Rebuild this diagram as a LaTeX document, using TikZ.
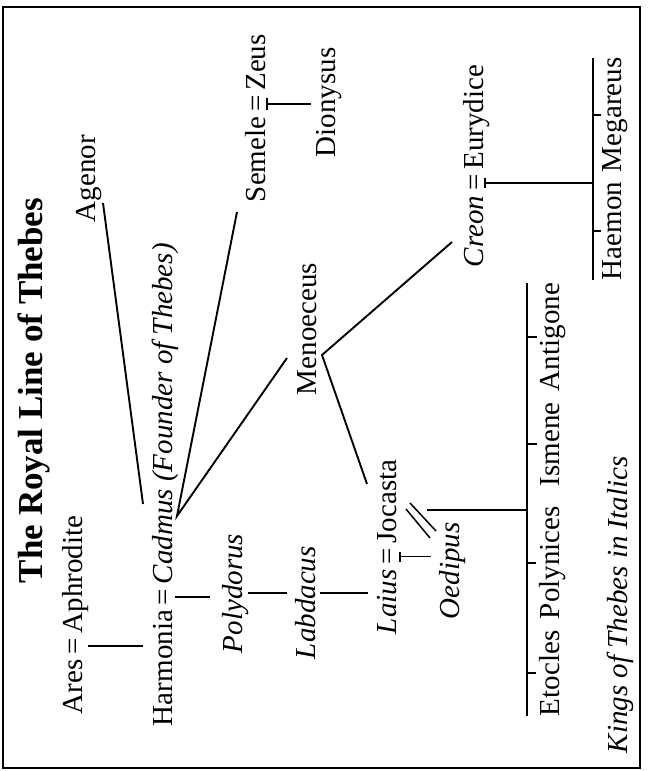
\documentclass[tikz,border=0pt]{standalone}
\usepackage{fontspec}
\setmainfont{Liberation Serif}
\begin{document}
\begin{tikzpicture}[x=1pt,y=-1pt,
  nm/.style={rotate=90, anchor=base west, inner sep=0pt, outer sep=0pt, font=\fontsize{29}{34}\selectfont},
  itn/.style={nm, font=\fontsize{29}{34}\selectfont\itshape},
  ln/.style={line width=1.9pt},
  tk/.style={line width=1.5pt},
]
\useasboundingbox (0,0) rectangle (648,771);
\draw[line width=2.2pt] (3,7) rectangle (640,768);

% names
\node[nm, font=\fontsize{35}{40}\selectfont\bfseries] (title) at (42,583) {The Royal Line of Thebes};
\node[nm] (agenor) at (95,222) {Agenor};
\node[nm] (ares) at (82,714) {Ares};
\node[nm] (eqA) at (ares.base east) {\,=\,};
\node[nm] (aphrodite) at (eqA.base east) {Aphrodite};
\node[nm] (harmonia) at (172,726) {Harmonia};
\node[nm] (eqH) at (harmonia.base east) {\,=\,};
\node[itn] (cadmus) at (eqH.base east) {Cadmus (Founder of Thebes)};
\node[nm] (semele) at (265,202) {Semele};
\node[nm] (eqS) at (semele.base east) {\,=\,};
\node[nm] (zeus) at (eqS.base east) {Zeus};
\node[nm] (dionysus) at (335,157) {Dionysus};
\node[itn] (polydorus) at (242,653) {Polydorus};
\node[nm] (menoeceus) at (316,395) {Menoeceus};
\node[itn] (labdacus) at (315,659) {Labdacus};
\node[itn] (laius) at (396,634) {Laius};
\node[nm] (eqL) at (laius.base east) {\,=\,};
\node[nm] (jocasta) at (eqL.base east) {Jocasta};
\node[itn] (oedipus) at (459,619) {Oedipus};
\node[itn] (creon) at (483,267) {Creon};
\node[nm] (eqC) at (creon.base east) {\,=\,};
\node[nm] (eurydice) at (eqC.base east) {Eurydice};
\node[nm] (etocles) at (559,716) {Etocles};
\node[nm] (polynices) at (559,619) {Polynices};
\node[nm] (ismene) at (559,486) {Ismene};
\node[nm] (antigone) at (559,391) {Antigone};
\node[nm] (haemon) at (621,280) {Haemon};
\node[nm] (megareus) at (621,172) {Megareus};
\node[itn] (kings) at (627,753) {Kings of Thebes in Italics};

% lines from Cadmus
\coordinate (cadapex) at (177,516);
\coordinate (cadtop) at (143,504);
\coordinate (agenorfoot) at (103,203);
\coordinate (semelefoot) at (237,212);
\coordinate (menfoot) at (287,358);
\draw[ln] (agenorfoot) -- (cadtop);
\draw[ln] (semelefoot) -- (cadapex) -- (menfoot);

% fork from Menoeceus
\coordinate (menapex) at (322,355);
\coordinate (creonfoot) at (452,242);
\coordinate (jocfoot) at (367,484);
\draw[ln] (creonfoot) -- (menapex) -- (jocfoot);

% Ares = Aphrodite -> Harmonia
\coordinate (hA) at ([xshift=-10pt]harmonia.north);
\draw[ln] ([xshift=6pt]eqA.south) -- (hA |- eqA.south);

% Harmonia = Cadmus -> Polydorus
\coordinate (pA) at ([xshift=-12pt]polydorus.north);
\draw[ln] ([xshift=3pt]eqH.south) -- (pA |- eqH.south);

% Polydorus -> Labdacus -> Laius
\coordinate (lA) at ([xshift=-8pt]labdacus.north);
\coordinate (lB) at ([xshift=5pt]labdacus.south);
\coordinate (laA) at ([xshift=-9pt]laius.north);
\draw[ln] (polydorus.south) -- (lA |- polydorus.south);
\draw[ln] (lB |- polydorus.south) -- (laA |- polydorus.south);

% Semele = Zeus -> Dionysus
\coordinate (dA) at ([xshift=-5pt]dionysus.north);
\draw[ln] ([xshift=2pt]eqS.south) -- (dA |- eqS.south);
\draw[tk] ([xshift=2pt,yshift=6pt]eqS.south) -- ([xshift=2pt,yshift=-6pt]eqS.south);

% Laius = Jocasta -> Oedipus
\coordinate (oA) at ([xshift=-8pt]oedipus.north);
\draw[ln] ([xshift=4pt]eqL.south) -- (oA |- eqL.south);
\draw[tk] ([xshift=4pt,yshift=5pt]eqL.south) -- ([xshift=4pt,yshift=-5pt]eqL.south);

% Jocasta // Oedipus and their children
\coordinate (sl1a) at (410,503);
\coordinate (sl1b) at (436,531);
\coordinate (sl2a) at (406,509);
\coordinate (sl2b) at (430,538);
\draw[tk] (sl1a) -- (sl1b);
\draw[tk] (sl2a) -- (sl2b);
\coordinate (jo) at (427,510);
\coordinate (cbar) at ([xshift=-12pt]etocles.north);
\draw[ln] (jo) -- (cbar |- jo);
\draw[ln] (cbar |- etocles.west) -- (cbar |- antigone.east);
\foreach \c in {etocles,polynices,ismene,antigone}
  \draw[ln] (cbar |- \c.north) -- ([xshift=-3pt]\c.north);

% Creon = Eurydice -> Haemon, Megareus
\coordinate (hbar) at ([xshift=-9pt]haemon.north);
\draw[ln] ([xshift=2pt]eqC.south) -- (hbar |- eqC.south);
\draw[tk] ([xshift=2pt,yshift=5pt]eqC.south) -- ([xshift=2pt,yshift=-5pt]eqC.south);
\draw[ln] (hbar |- haemon.west) -- (hbar |- megareus.east);
\foreach \c in {haemon,megareus}
  \draw[ln] (hbar |- \c.north) -- ([xshift=-1pt]\c.north);
\end{tikzpicture}
\end{document}
